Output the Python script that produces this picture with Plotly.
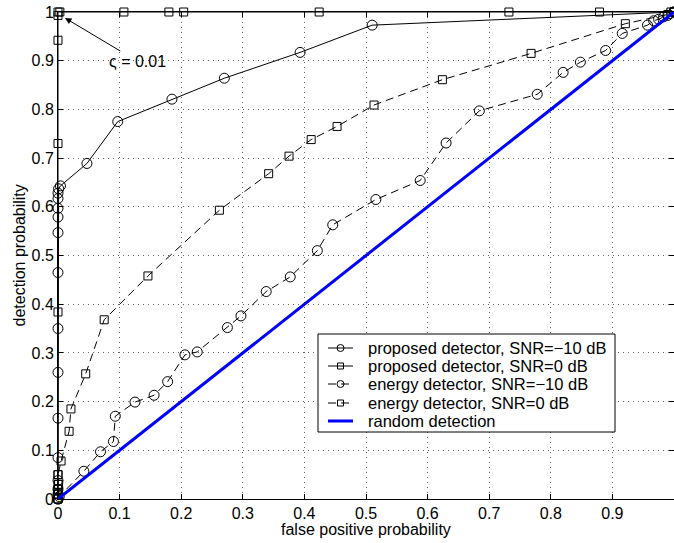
import plotly.graph_objects as go

# ---------------- data ----------------
prop_m10_x = [0, 0, 0, 0, 0, 0, 0, 0, 0, 0, 0, 0, 0, 0, 0.001, 0.004,
              0.047, 0.097, 0.185, 0.27, 0.393, 0.51, 1.0]
prop_m10_y = [0, 0.01, 0.02, 0.038, 0.085, 0.166, 0.26, 0.35, 0.465, 0.547,
              0.579, 0.597, 0.617, 0.628, 0.637, 0.643,
              0.689, 0.775, 0.821, 0.864, 0.917, 0.973, 1.0]

prop_0_x = [0, 0, 0, 0, 0, 0, 0, 0, 0, 0, 0.003, 0.107, 0.18, 0.204, 0.424,
            0.732, 0.879, 0.995, 1.0]
prop_0_y = [0, 0.01, 0.02, 0.03, 0.05, 0.384, 0.730, 0.942, 0.993, 1.0, 1.0,
            1.0, 1.0, 1.0, 1.0, 1.0, 1.0, 1.0, 1.0]

en_m10_x = [0, 0.002, 0.042, 0.069, 0.09, 0.093, 0.125, 0.156, 0.178, 0.206,
            0.226, 0.275, 0.297, 0.338, 0.377, 0.421, 0.446, 0.516, 0.588,
            0.630, 0.684, 0.778, 0.820, 0.848, 0.889, 0.916, 0.957, 0.967,
            0.975, 0.983, 0.99, 1.0]
en_m10_y = [0, 0.005, 0.057, 0.097, 0.118, 0.170, 0.199, 0.213, 0.241, 0.296,
            0.302, 0.352, 0.376, 0.426, 0.456, 0.510, 0.563, 0.615, 0.654,
            0.731, 0.797, 0.831, 0.876, 0.897, 0.921, 0.956, 0.973, 0.982,
            0.985, 0.99, 0.993, 1.0]

en_0_x = [0, 0, 0, 0.001, 0, 0.005, 0.018, 0.021, 0.045, 0.075, 0.146, 0.262,
          0.342, 0.375, 0.411, 0.453, 0.513, 0.624, 0.768, 0.921, 0.99, 1.0]
en_0_y = [0, 0.01, 0.02, 0.03, 0.05, 0.078, 0.139, 0.185, 0.257, 0.368, 0.458,
          0.593, 0.668, 0.704, 0.738, 0.765, 0.809, 0.861, 0.915, 0.976, 0.995,
          1.0]

rand_x = [0, 1]
rand_y = [0, 1]

tick_vals = [0, 0.1, 0.2, 0.3, 0.4, 0.5, 0.6, 0.7, 0.8, 0.9, 1]
tick_text = ["0", "0.1", "0.2", "0.3", "0.4", "0.5", "0.6", "0.7", "0.8", "0.9", "1"]

series_names = ["proposed detector, SNR=\u221210 dB",
                "proposed detector, SNR=0 dB",
                "energy detector, SNR=\u221210 dB",
                "energy detector, SNR=0 dB",
                "random detection"]

FONT = "Liberation Sans, Arial, Helvetica, sans-serif"
DASH = "8px,5px"

# figure geometry (body margin removed by post_script below)
W, H = 674, 543
ML, MR, MT, MB = 58, 0, 12, 44
PW = W - ML - MR
PH = H - MT - MB


def px2paper_x(px):
    return (px - ML) / PW


def px2paper_y(py):
    return (H - MB - py) / PH


fig = go.Figure()

styles = [
    dict(dash="solid", symbol="circle-open", size=10),
    dict(dash="solid", symbol="square-open", size=8),
    dict(dash=DASH, symbol="circle-open", size=10),
    dict(dash=DASH, symbol="square-open", size=8),
]
xs = [prop_m10_x, prop_0_x, en_m10_x, en_0_x]
ys = [prop_m10_y, prop_0_y, en_m10_y, en_0_y]

for i in range(4):
    st = styles[i]
    fig.add_trace(go.Scatter(
        x=xs[i], y=ys[i], mode="lines+markers", name=series_names[i],
        line=dict(color="black", width=1, dash=st["dash"]),
        marker=dict(symbol=st["symbol"], size=st["size"], color="black",
                    line=dict(width=1)),
        cliponaxis=False))

fig.add_trace(go.Scatter(
    x=rand_x, y=rand_y, mode="lines", name=series_names[4],
    line=dict(color="#0000ff", width=3), cliponaxis=False))

axis_common = dict(
    range=[0, 1], tickmode="array", tickvals=tick_vals, ticktext=tick_text,
    ticks="inside", ticklen=5, tickcolor="black", tickwidth=1,
    showline=True, linecolor="black", linewidth=1, mirror="ticks",
    showgrid=True, gridcolor="#666666", gridwidth=1, griddash="1px,4px",
    zeroline=False, tickfont=dict(family=FONT, size=16, color="black"),
)

# ---------------- hand-drawn legend (MATLAB-like compact box) -------------
shapes = []
annotations = []
box_l, box_r, box_t, box_b = 318, 615, 334, 432
shapes.append(dict(type="rect", xref="paper", yref="paper",
                   x0=px2paper_x(box_l), x1=px2paper_x(box_r),
                   y0=px2paper_y(box_b), y1=px2paper_y(box_t),
                   line=dict(color="black", width=1), fillcolor="white",
                   layer="above"))
item_y = [348, 366, 384, 403, 421]
line_x0, line_x1, mark_x, text_x = 328, 353, 340.5, 366
for i, name in enumerate(series_names):
    yy = px2paper_y(item_y[i])
    if i < 4:
        st = styles[i]
        shapes.append(dict(type="line", xref="paper", yref="paper",
                           x0=px2paper_x(line_x0), x1=px2paper_x(line_x1),
                           y0=yy, y1=yy, layer="above",
                           line=dict(color="black", width=1, dash=st["dash"])))
        r = 3.5 if st["symbol"] == "circle-open" else 3
        shapes.append(dict(type="circle" if st["symbol"] == "circle-open" else "rect",
                           xref="paper", yref="paper",
                           xsizemode="pixel", ysizemode="pixel",
                           xanchor=px2paper_x(mark_x), yanchor=yy,
                           x0=-r, x1=r, y0=-r, y1=r, layer="above",
                           line=dict(color="black", width=1),
                           fillcolor="rgba(0,0,0,0)"))
    else:
        shapes.append(dict(type="line", xref="paper", yref="paper",
                           x0=px2paper_x(line_x0), x1=px2paper_x(line_x1),
                           y0=yy, y1=yy, layer="above",
                           line=dict(color="#0000ff", width=3)))
    annotations.append(dict(x=px2paper_x(text_x), y=yy, xref="paper", yref="paper",
                            text=name, showarrow=False, xanchor="left",
                            yanchor="middle",
                            font=dict(family=FONT, size=16.5, color="black")))

# arrow annotation in data coords (axes span exactly [0, 1])
annotations += [
    dict(x=px2paper_x(65), y=px2paper_y(18), xref="x", yref="y",
         ax=px2paper_x(137), ay=px2paper_y(61), axref="x", ayref="y",
         text="\u03c2 = 0.01", showarrow=True,
         arrowhead=2, arrowsize=1.3, arrowwidth=1, arrowcolor="black",
         font=dict(family=FONT, size=16, color="black")),
    dict(x=0.5, y=px2paper_y(529), xref="paper", yref="paper",
         text="false positive probability", showarrow=False,
         xanchor="center", yanchor="middle",
         font=dict(family=FONT, size=16, color="black")),
    dict(x=px2paper_x(19), y=0.5, xref="paper", yref="paper",
         text="detection probability", showarrow=False, textangle=-90,
         xanchor="center", yanchor="middle",
         font=dict(family=FONT, size=16, color="black")),
]

fig.update_layout(
    width=W, height=H,
    margin=dict(l=ML, r=MR, t=MT, b=MB),
    paper_bgcolor="white", plot_bgcolor="white",
    font=dict(family=FONT, size=16, color="black"),
    xaxis=axis_common,
    yaxis=axis_common,
    showlegend=False,
    hovermode=False,
    shapes=shapes,
    annotations=annotations,
)

fig.write_html(
    "out.html",
    config={"responsive": False, "displayModeBar": False, "staticPlot": True},
    post_script="document.body.style.margin='0';document.body.style.overflow='hidden';",
)
